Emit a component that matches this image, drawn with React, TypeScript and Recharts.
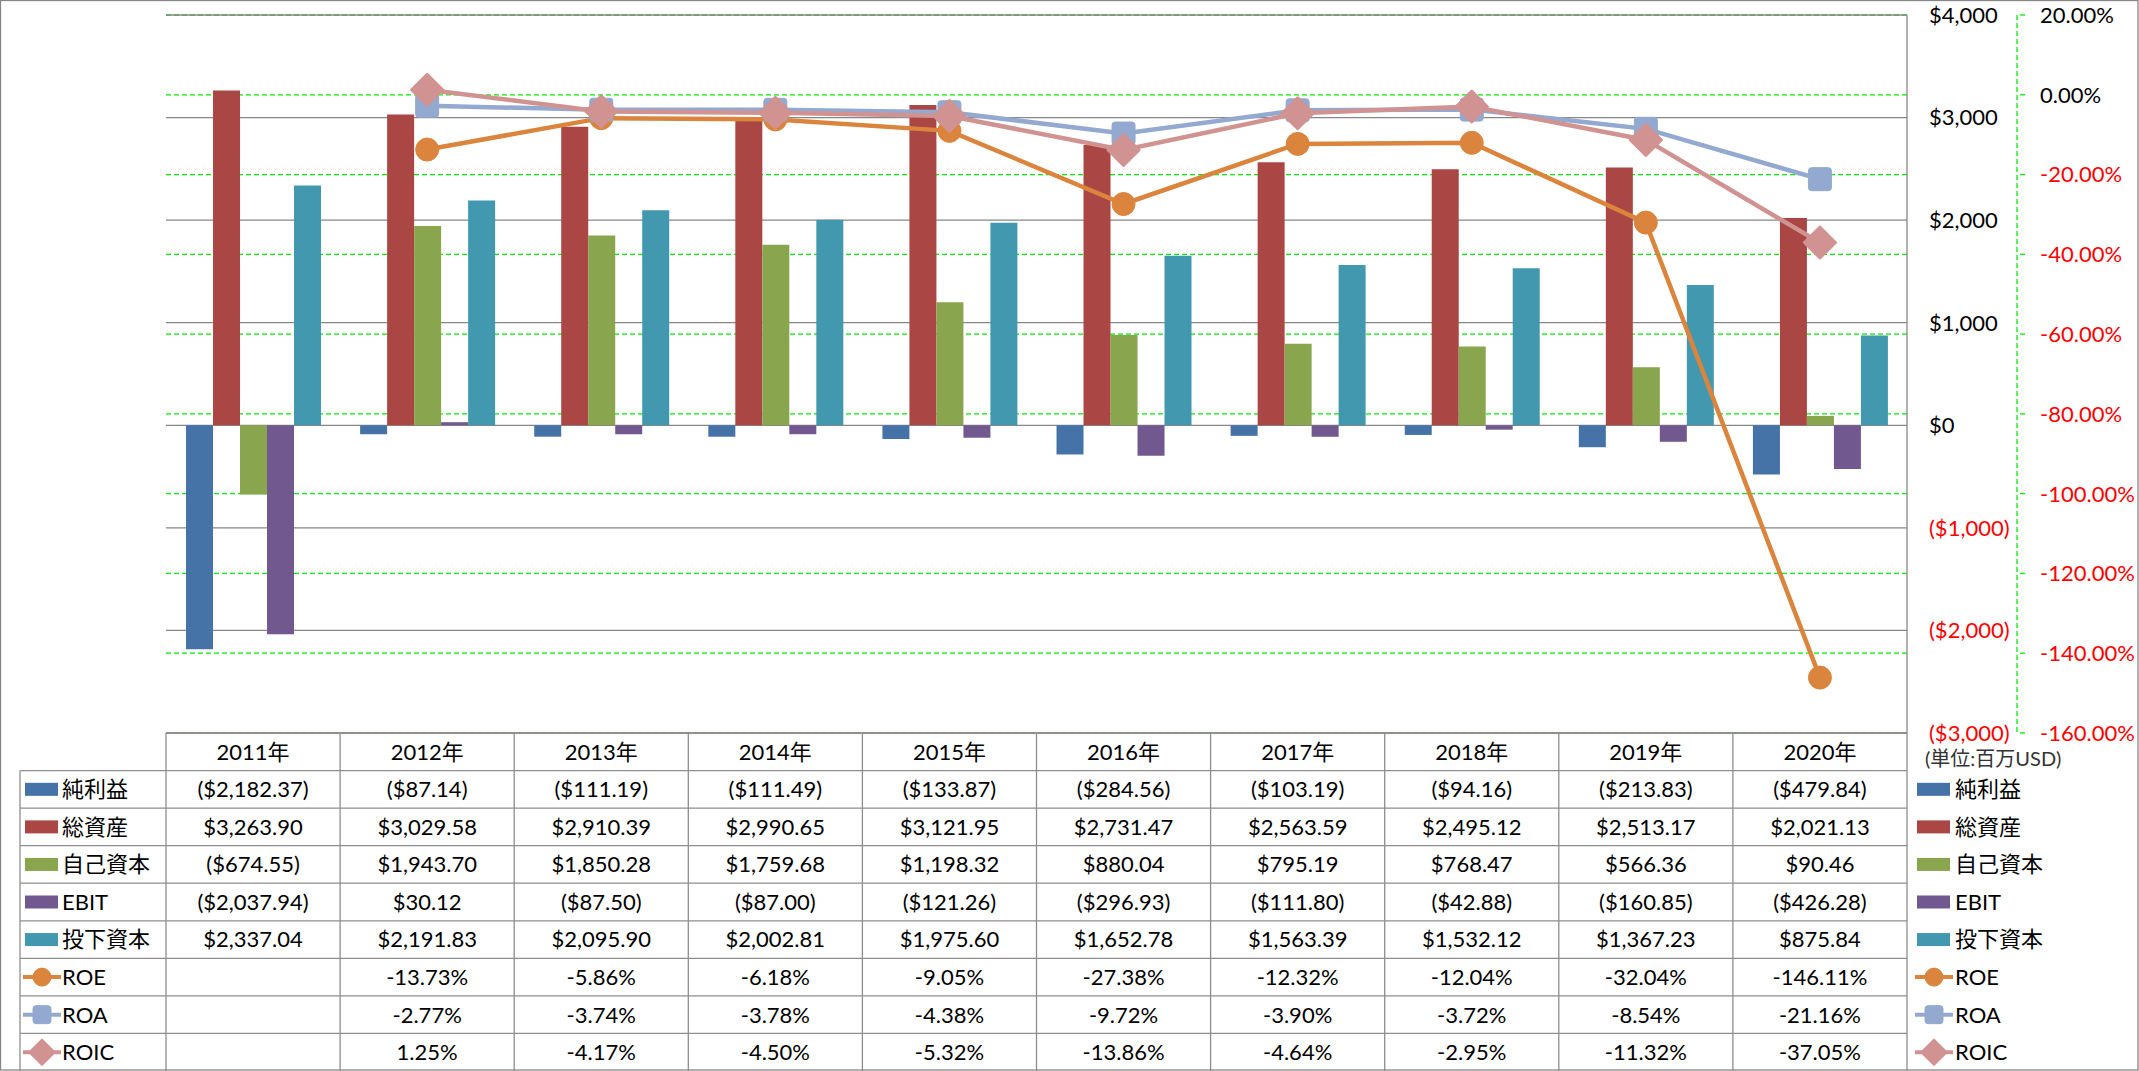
import React from 'react';
import { ComposedChart, Bar, Line, XAxis, YAxis, CartesianGrid } from 'recharts';

// ---------- data ----------
const years = ['2011年', '2012年', '2013年', '2014年', '2015年', '2016年', '2017年', '2018年', '2019年', '2020年'];
const netIncome = [-2182.37, -87.14, -111.19, -111.49, -133.87, -284.56, -103.19, -94.16, -213.83, -479.84];
const totalAssets = [3263.9, 3029.58, 2910.39, 2990.65, 3121.95, 2731.47, 2563.59, 2495.12, 2513.17, 2021.13];
const equity = [-674.55, 1943.7, 1850.28, 1759.68, 1198.32, 880.04, 795.19, 768.47, 566.36, 90.46];
const ebit = [-2037.94, 30.12, -87.5, -87.0, -121.26, -296.93, -111.8, -42.88, -160.85, -426.28];
const investedCapital = [2337.04, 2191.83, 2095.9, 2002.81, 1975.6, 1652.78, 1563.39, 1532.12, 1367.23, 875.84];
const roe = [null, -13.73, -5.86, -6.18, -9.05, -27.38, -12.32, -12.04, -32.04, -146.11];
const roa = [null, -2.77, -3.74, -3.78, -4.38, -9.72, -3.9, -3.72, -8.54, -21.16];
const roic = [null, 1.25, -4.17, -4.5, -5.32, -13.86, -4.64, -2.95, -11.32, -37.05];
const usdTicks = [-3000, -2000, -1000, 0, 1000, 2000, 3000, 4000];
const pctTicks = [-160, -140, -120, -100, -80, -60, -40, -20, 0, 20];
const unitLabel = '(単位:百万USD)';

type BarSeries = { key: string; name: string; color: string; values: number[] };
type LineSeries = { key: string; name: string; color: string; marker: 'circle' | 'square' | 'diamond'; values: (number | null)[] };

const barSeries: BarSeries[] = [
  { key: 'netIncome', name: '純利益', color: '#4572A7', values: netIncome },
  { key: 'totalAssets', name: '総資産', color: '#AA4643', values: totalAssets },
  { key: 'equity', name: '自己資本', color: '#89A54E', values: equity },
  { key: 'ebit', name: 'EBIT', color: '#71588F', values: ebit },
  { key: 'investedCapital', name: '投下資本', color: '#4198AF', values: investedCapital },
];
const lineSeries: LineSeries[] = [
  { key: 'roe', name: 'ROE', color: '#DB843D', marker: 'circle', values: roe },
  { key: 'roa', name: 'ROA', color: '#93A9CF', marker: 'square', values: roa },
  { key: 'roic', name: 'ROIC', color: '#D19392', marker: 'diamond', values: roic },
];

const data = years.map((y, i) => {
  const row: Record<string, any> = { year: y };
  barSeries.forEach((s) => (row[s.key] = s.values[i]));
  lineSeries.forEach((s) => (row[s.key] = s.values[i]));
  return row;
});

// ---------- layout ----------
const W = 2139;
const H = 1071;
const PL = 166;
const PR = 1907;
const PT = 15;
const PB = 733;
const USD_AXIS_W = 110;
const PCT_AXIS_W = W - PR - USD_AXIS_W;
const USD = 'a_usd';
const PCT = 'b_pct';
const FONT = "Lato, 'Noto Sans CJK JP', sans-serif";
const FS = 22;
const GRID_GRAY = '#878787';
const GREEN = '#00EE00';
const TABLE_LINE = '#8E8E8E';
const NEG_RED = '#FF0000';

const fmtMoney = (v: number, digits: number) => {
  const abs = Math.abs(v).toLocaleString('en-US', { minimumFractionDigits: digits, maximumFractionDigits: digits });
  return v < 0 ? `($${abs})` : `$${abs}`;
};
const fmtPct = (v: number) => `${v.toFixed(2)}%`;

const UsdTick = (p: any) => {
  const v = p.payload.value as number;
  return (
    <text x={p.x + 22} y={p.y} dy="0.36em" textAnchor="start" fontFamily={FONT} fontSize={FS} fill={v < 0 ? NEG_RED : '#000'}>
      {fmtMoney(v, 0)}
    </text>
  );
};
const PctTick = (p: any) => {
  const v = p.payload.value as number;
  return (
    <text x={p.x + 15} y={p.y} dy="0.36em" textAnchor="start" fontFamily={FONT} fontSize={FS} fill={v < 0 ? NEG_RED : '#000'}>
      {fmtPct(v)}
    </text>
  );
};

const Marker = ({ shape, color, cx, cy, s }: { shape: string; color: string; cx: number; cy: number; s: number }) => {
  if (shape === 'circle') return <circle cx={cx} cy={cy} r={s} fill={color} stroke={color} strokeWidth={1} />;
  if (shape === 'square')
    return <rect x={cx - s} y={cy - s} width={2 * s} height={2 * s} rx={3} fill={color} stroke={color} strokeWidth={1} />;
  const d = s * 1.4;
  return (
    <path
      d={`M${cx},${cy - d} L${cx + d},${cy} L${cx},${cy + d} L${cx - d},${cy} Z`}
      fill={color}
      stroke={color}
      strokeWidth={2}
      strokeLinejoin="round"
    />
  );
};

const makeDot = (shape: string, color: string) => (p: any) => {
  const { cx, cy, value, index } = p;
  if (value == null || cy == null || Number.isNaN(cy)) return <g key={`d-${index}`} />;
  return (
    <g key={`d-${index}`}>
      <Marker shape={shape} color={color} cx={cx} cy={cy} s={11.5} />
    </g>
  );
};

const LegendIcon = ({ x, y, series, isLine }: { x: number; y: number; series: any; isLine: boolean }) => {
  if (!isLine) return <rect x={x} y={y - 6.5} width={33} height={13} fill={series.color} />;
  return (
    <g>
      <line x1={x - 2} y1={y} x2={x + 36} y2={y} stroke={series.color} strokeWidth={4} />
      <Marker shape={series.marker} color={series.color} cx={x + 17} cy={y} s={9} />
    </g>
  );
};

const TableOverlay = () => {
  const rowH = (H - PB) / 9;
  const colW = (PR - PL) / years.length;
  const LBL_X = 20;
  const rows = [
    ...barSeries.map((s) => ({ s, isLine: false, texts: s.values.map((v) => fmtMoney(v, 2)) })),
    ...lineSeries.map((s) => ({ s, isLine: true, texts: s.values.map((v) => (v == null ? '' : fmtPct(v))) })),
  ];
  return (
    <svg width={W} height={H} style={{ position: 'absolute', left: 0, top: 0, pointerEvents: 'none' }}>
      <line x1={PL} y1={PB} x2={PR} y2={PB} stroke={TABLE_LINE} strokeWidth={1.3} />
      {rows.map((_, k) => (
        <line key={`h${k}`} x1={LBL_X} y1={PB + rowH * (k + 1)} x2={PR} y2={PB + rowH * (k + 1)} stroke={TABLE_LINE} strokeWidth={1.3} />
      ))}
      <line x1={LBL_X} y1={PB + rowH} x2={LBL_X} y2={H} stroke={TABLE_LINE} strokeWidth={1.3} />
      {years.map((_, i) => (
        <line key={`v${i}`} x1={PL + i * colW} y1={PB} x2={PL + i * colW} y2={H} stroke={TABLE_LINE} strokeWidth={1.3} />
      ))}
      <line x1={PR} y1={PB} x2={PR} y2={H} stroke={TABLE_LINE} strokeWidth={1.3} />
      {years.map((y, i) => (
        <text key={`y${i}`} x={PL + (i + 0.5) * colW} y={PB + rowH / 2} dy="0.36em" textAnchor="middle" fontFamily={FONT} fontSize={FS} fill="#000">
          {y}
        </text>
      ))}
      {rows.map((r, k) => {
        const cy = PB + rowH * (k + 1.5);
        return (
          <g key={`r${k}`}>
            <LegendIcon x={25} y={cy} series={r.s} isLine={r.isLine} />
            <text x={62} y={cy} dy="0.36em" fontFamily={FONT} fontSize={FS} fill="#000">
              {r.s.name}
            </text>
            {r.texts.map((t, i) => (
              <text key={i} x={PL + (i + 0.5) * colW} y={cy} dy="0.36em" textAnchor="middle" fontFamily={FONT} fontSize={FS} fill="#000">
                {t}
              </text>
            ))}
            <LegendIcon x={1917} y={cy} series={r.s} isLine={r.isLine} />
            <text x={1955} y={cy} dy="0.36em" fontFamily={FONT} fontSize={FS} fill="#000">
              {r.s.name}
            </text>
          </g>
        );
      })}
      <text x={1925} y={PB + rowH / 2 + 7} dy="0.36em" fontFamily={FONT} fontSize={20} fill="#333">
        {unitLabel}
      </text>
      <rect x={0.5} y={0.5} width={W - 1.5} height={H - 1.5} fill="none" stroke="#868686" strokeWidth={1.3} />
    </svg>
  );
};

export default function App() {
  return (
    <div style={{ position: 'absolute', left: 0, top: 0, width: W, height: H, background: '#fff', fontFamily: FONT }}>
      <ComposedChart
        width={W}
        height={H}
        data={data}
        margin={{ top: PT, left: PL, right: 0, bottom: H - PB }}
        barCategoryGap="11.5%"
        barGap={0}
      >
        <CartesianGrid yAxisId={PCT} horizontal vertical={false} stroke={GREEN} strokeWidth={1.3} strokeDasharray="5 3" />
        <CartesianGrid yAxisId={USD} horizontal vertical={false} stroke={GRID_GRAY} strokeWidth={1.3} />
        <XAxis dataKey="year" hide />
        <YAxis
          yAxisId={USD}
          orientation="right"
          width={USD_AXIS_W}
          domain={[-3000, 4000]}
          ticks={usdTicks}
          interval={0}
          axisLine={{ stroke: GRID_GRAY, strokeWidth: 1.3 }}
          tickLine={false}
          tickSize={0}
          tickMargin={0}
          tick={UsdTick}
        />
        <YAxis
          yAxisId={PCT}
          orientation="right"
          width={PCT_AXIS_W}
          domain={[-160, 20]}
          ticks={pctTicks}
          interval={0}
          axisLine={{ stroke: GREEN, strokeWidth: 1.3, strokeDasharray: '5 3' }}
          tickLine={{ stroke: GREEN, strokeWidth: 1.3, strokeDasharray: '5 3' }}
          tickSize={8}
          tickMargin={0}
          tick={PctTick}
        />
        {barSeries.map((s) => (
          <Bar key={s.key} yAxisId={USD} dataKey={s.key} name={s.name} fill={s.color} isAnimationActive={false} />
        ))}
        {lineSeries.map((s) => (
          <Line
            key={s.key}
            yAxisId={PCT}
            type="linear"
            dataKey={s.key}
            name={s.name}
            stroke={s.color}
            strokeWidth={4.5}
            dot={makeDot(s.marker, s.color)}
            activeDot={false}
            isAnimationActive={false}
          />
        ))}
      </ComposedChart>
      <TableOverlay />
    </div>
  );
}
